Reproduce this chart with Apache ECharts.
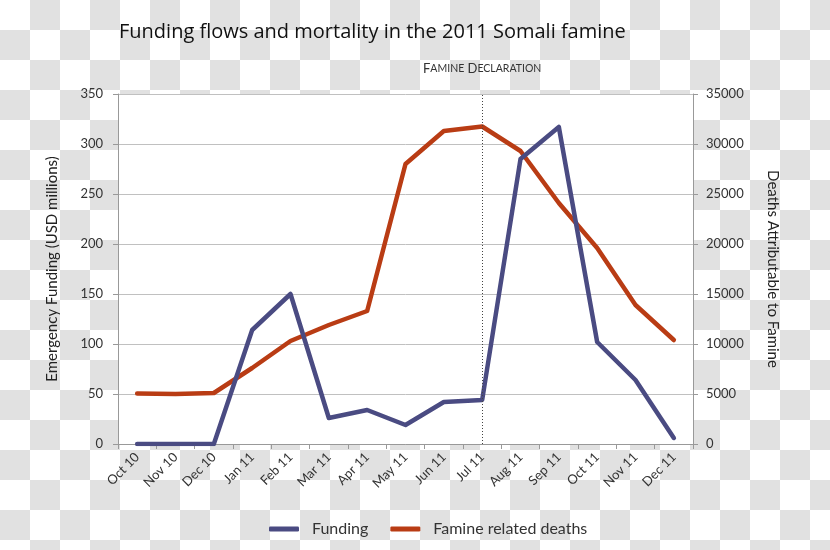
<!DOCTYPE html>
<html>
<head>
<meta charset="utf-8">
<script src="https://cdn.jsdelivr.net/npm/echarts@6/dist/echarts.min.js"></script>
<style>
html,body{margin:0;padding:0;}
#chart{width:830px;height:550px;
background-image:repeating-conic-gradient(#e1e1e1 0 25%, #ffffff 0 50%);
background-size:60px 60px;}
</style>
</head>
<body>
<div id="chart"></div>
<script>
var categories = ['Oct 10','Nov 10','Dec 10','Jan 11','Feb 11','Mar 11','Apr 11','May 11','Jun 11','Jul 11','Aug 11','Sep 11','Oct 11','Nov 11','Dec 11'];
var funding = [0, 0, 0, 114, 150, 26, 34, 19, 42, 44, 285, 317, 102, 64, 6];
var deaths = [5050, 5000, 5100, 7600, 10300, 11900, 13300, 28000, 31300, 31750, 29300, 24100, 19600, 13900, 10400];
var fundingTicks = {min: 0, max: 350, interval: 50};
var deathTicks = {min: 0, max: 35000, interval: 5000};
var declarationMonth = 'Jul 11';

var FONT = 'Lato';
var chart = echarts.init(document.getElementById('chart'), null, {renderer: 'canvas'});
chart.setOption({
  backgroundColor: 'transparent',
  animation: false,
  title: {
    text: 'Funding flows and mortality in the 2011 Somali famine',
    left: 114, top: 17,
    textStyle: {fontFamily: 'Open Sans', fontSize: 20, fontWeight: 'normal', color: '#111'}
  },
  grid: {left: 118, right: 137, top: 94, bottom: 106, show: true, backgroundColor: '#ffffff', borderWidth: 0},
  legend: {
    left: 264, top: 516, itemWidth: 30, itemHeight: 5, itemGap: 22,
    icon: 'roundRect',
    textStyle: {fontFamily: FONT, fontSize: 16, color: '#333', padding: [0,0,0,8]},
    data: ['Funding', 'Famine related deaths']
  },
  xAxis: {
    type: 'category', data: categories, boundaryGap: true,
    axisLine: {lineStyle: {color: '#999'}},
    axisTick: {show: true, length: 5, lineStyle: {color: '#999'}},
    axisLabel: {rotate: 45, fontFamily: FONT, fontSize: 13, color: '#333', margin: 11, interval: 0}
  },
  yAxis: [{
    type: 'value', min: fundingTicks.min, max: fundingTicks.max, interval: fundingTicks.interval,
    name: 'Emergency Funding (USD millions)', nameLocation: 'middle', nameGap: 58,
    nameTextStyle: {fontFamily: FONT, fontSize: 15, color: '#222'},
    axisLine: {show: true, lineStyle: {color: '#999'}},
    axisTick: {show: true, length: 5, lineStyle: {color: '#999'}},
    axisLabel: {fontFamily: FONT, fontSize: 13, color: '#333', margin: 15},
    splitLine: {lineStyle: {color: '#c0c0c0', width: 1}}
  }, {
    type: 'value', position: 'right', min: deathTicks.min, max: deathTicks.max, interval: deathTicks.interval,
    name: 'Deaths Attributable to Famine', nameLocation: 'middle', nameGap: 72, nameRotate: -90,
    nameTextStyle: {fontFamily: FONT, fontSize: 15, color: '#222'},
    axisLine: {show: true, lineStyle: {color: '#999'}},
    axisTick: {show: true, length: 5, lineStyle: {color: '#999'}},
    axisLabel: {fontFamily: FONT, fontSize: 13, color: '#333', margin: 13, formatter: function (v) { return String(v); }},
    splitLine: {show: false}
  }],
  series: [{
    name: 'Famine related deaths', type: 'line', yAxisIndex: 1, data: deaths,
    symbol: 'none', showSymbol: false, z: 2,
    lineStyle: {color: '#b93c14', width: 4.5, cap: 'round', join: 'round'},
    itemStyle: {color: '#b93c14'}
  }, {
    name: 'Funding', type: 'line', yAxisIndex: 0, data: funding,
    symbol: 'none', showSymbol: false, z: 3,
    lineStyle: {color: '#4a4b82', width: 4.5, cap: 'round', join: 'round'},
    itemStyle: {color: '#4a4b82'},
    markLine: {
      silent: true, symbol: ['none', 'none'], animation: false,
      lineStyle: {type: [1, 2], color: '#444', width: 1},
      label: {
        position: 'end', distance: 19,
        formatter: '{a|F}{b|AMINE} {a|D}{b|ECLARATION}',
        rich: {
          a: {fontFamily: FONT, fontSize: 13, color: '#333'},
          b: {fontFamily: FONT, fontSize: 10.5, color: '#333'}
        }
      },
      data: [{xAxis: declarationMonth}]
    }
  }]
});
</script>
</body>
</html>
